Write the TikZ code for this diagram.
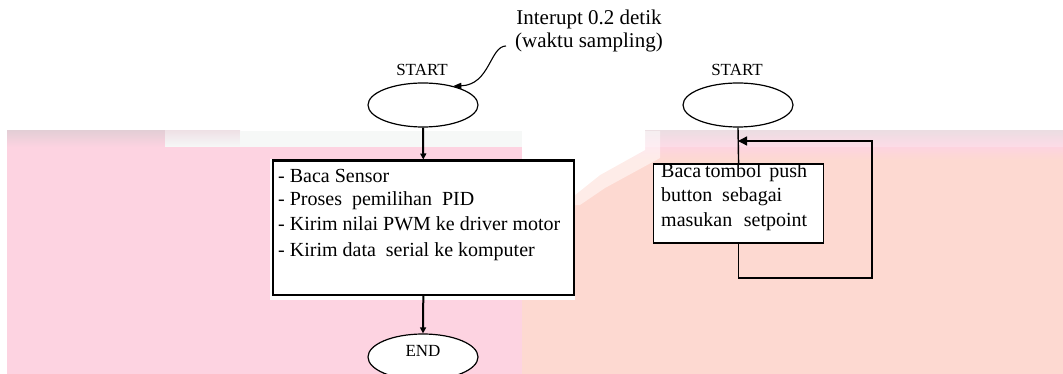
\documentclass[tikz,border=0pt]{standalone}
\usepackage{fontspec}
\setmainfont{Liberation Serif}
\usetikzlibrary{arrows.meta,shapes.geometric}
\definecolor{bandpink}{RGB}{253,211,225}
\definecolor{bandsalmon}{RGB}{253,217,209}
\definecolor{stripgrey}{RGB}{228,206,214}
\definecolor{stripwhite}{RGB}{246,248,247}

\begin{document}
\begin{tikzpicture}[x=1pt,y=-1pt,
  bodytext/.style={font=\fontsize{20}{25}\selectfont, inner sep=0pt, anchor=base west},
  note/.style={font=\fontsize{21}{25}\selectfont, inner sep=0pt, anchor=base},
  termlabel/.style={font=\fontsize{17}{20}\selectfont, inner sep=0pt, anchor=base},
  oval/.style={draw, fill=white, ellipse, minimum width=110pt, minimum height=44pt, inner sep=0pt, line width=1.2pt},
  bigbox/.style={draw, fill=white, rectangle, line width=2.6pt, inner sep=0pt, anchor=north west},
  smallbox/.style={draw, fill=white, rectangle, line width=1.2pt, inner sep=0pt, anchor=north west},
  flowbold/.style={line width=2pt, -{Triangle[length=6pt,width=6pt]}},
  flowthin/.style={line width=1.4pt},
  loopline/.style={line width=1.4pt, -{Triangle[length=9pt,width=9pt]}},
  pointer/.style={line width=1.1pt, -{Triangle[length=8pt,width=6pt]}}]

\useasboundingbox (0,0) rectangle (1063,374);

% coloured band behind the flowcharts
\fill[bandpink] (7,131) rectangle (522,374);
\fill[bandsalmon] (522,155) rectangle (1063,374);
\shade[top color=bandpink, bottom color=bandsalmon] (522,145) rectangle (1063,160);
\shade[top color=stripgrey, bottom color=bandpink] (7,131) rectangle (165,147);
\shade[top color=stripgrey!60!white, bottom color=stripwhite] (165,131) rectangle (240,147);
\fill[stripwhite] (240,131) rectangle (645,147);
\shade[top color=stripgrey!70!white, bottom color=bandpink!80!white] (645,131) rectangle (1063,147);
% pale wedge fading into the band near the middle
\fill[white, opacity=0.5] (522,131) -- (660,131) -- (660,158) -- (605,188) -- (580,205) -- (522,207) -- cycle;
\fill[white] (522,131) -- (645,131) -- (645,150) -- (600,175) -- (575,195) -- (522,197) -- cycle;
\fill[white] (270,159) rectangle (575,300);

% annotation
\node[note] (interupt) at (589,25) {Interupt 0.2 detik};
\node[note] (waktu) at (589,48) {(waktu sampling)};

% left flowchart
\node[termlabel] (startLlbl) at (422,76) {START};
\node[oval] (startL) at (423,105) {};
\node[bigbox, minimum width=301pt, minimum height=134pt] (task) at (271.5,159.5) {};
\node[bodytext] (t1) at (278,183) {- Baca Sensor};
\node[bodytext] (t2) at (278,206) {- Proses\ \ pemilihan\ \ PID};
\node[bodytext] (t3) at (278,231) {- Kirim nilai PWM ke driver motor};
\node[bodytext] (t4) at (278,256) {- Kirim data\ \ serial ke komputer};
\node[oval, minimum height=46pt] (endL) at (423,357) {};
\node[termlabel] (endlbl) at (423,356) {END};

\draw[flowbold] (startL.south) -- (task.north);
\draw[flowbold] (task.south) -- (endL.north);
\draw[pointer] ([xshift=-9pt,yshift=-3pt]waktu.west) .. controls (490,46) and (490,85) .. (startL.32);

% right flowchart
\node[termlabel] (startRlbl) at (737,76) {START};
\node[oval] (startR) at (738,105) {};
\node[smallbox, minimum width=170pt, minimum height=79pt] (pushbox) at (653,163.5) {};
\node[bodytext] (p1) at (661,178) {\makebox[146pt][s]{Baca tombol\ \ push}};
\node[bodytext] (p2) at (661,202) {\makebox[121pt][s]{button\ \ sebagai}};
\node[bodytext] (p3) at (661,226) {\makebox[146pt][s]{masukan\ \ setpoint}};

\coordinate (loopcorner) at (872,278);
\coordinate (loopend) at (738,141);
\draw[flowthin] (startR.south) -- (pushbox.north);
\draw[loopline] (pushbox.south) |- (loopcorner) |- (loopend);
\end{tikzpicture}
\end{document}
